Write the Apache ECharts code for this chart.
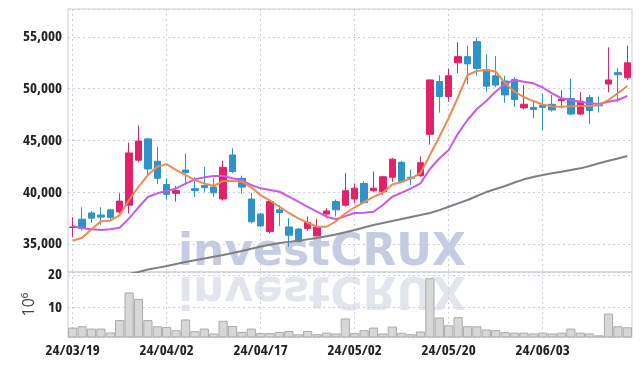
<!DOCTYPE html>
<html>
<head>
<meta charset="utf-8">
<script src="https://cdn.jsdelivr.net/npm/echarts@6/dist/echarts.min.js"></script>
<style>
  html, body { margin: 0; padding: 0; background: #fff; }
  #chart { width: 642px; height: 366px; }
</style>
</head>
<body>
<div id="chart"></div>
<script>
// trading days 24/03/19 ~ 24/06/17
var dates = [
  '24/03/19', '24/03/20', '24/03/21', '24/03/22', '24/03/25', '24/03/26', '24/03/27', '24/03/28', '24/03/29', '24/04/01',
  '24/04/02', '24/04/03', '24/04/04', '24/04/05', '24/04/08', '24/04/09', '24/04/11', '24/04/12', '24/04/15', '24/04/16',
  '24/04/17', '24/04/18', '24/04/19', '24/04/22', '24/04/23', '24/04/24', '24/04/25', '24/04/26', '24/04/29', '24/04/30',
  '24/05/02', '24/05/03', '24/05/07', '24/05/08', '24/05/09', '24/05/10', '24/05/13', '24/05/14', '24/05/16', '24/05/17',
  '24/05/20', '24/05/21', '24/05/22', '24/05/23', '24/05/24', '24/05/27', '24/05/28', '24/05/29', '24/05/30', '24/05/31',
  '24/06/03', '24/06/04', '24/06/05', '24/06/07', '24/06/10', '24/06/11', '24/06/12', '24/06/13', '24/06/14', '24/06/17'
];
var opens = [
  36600, 37400, 38000, 37800, 38300, 38100, 38750, 43100, 45150, 43000,
  40750, 39900, 42150, 40350, 40650, 40500, 39350, 43600, 41350, 39350,
  37900, 36200, 38300, 36650, 36450, 36500, 35800, 37900, 39100, 38750,
  39350, 40850, 40150, 40050, 41450, 42900, 41450, 41600, 45600, 50700,
  49250, 52500, 53100, 54550, 51850, 51250, 50750, 50900, 48150, 48200,
  48400, 48500, 48850, 49050, 47550, 49150, 48500, 50450, 51550, 51050
];
var closes = [
  36650, 36500, 37500, 37600, 37550, 39150, 43800, 44950, 42250, 41350,
  39800, 40150, 41900, 40150, 40450, 39950, 42400, 42000, 40500, 37150,
  36750, 39100, 38050, 35850, 35250, 37100, 36650, 38200, 38300, 40150,
  40400, 39000, 40400, 41500, 43200, 41000, 41350, 42850, 50850, 49250,
  51250, 53100, 52400, 51950, 50250, 50350, 49400, 48950, 48500, 48000,
  48200, 47950, 49000, 47550, 48800, 47900, 48350, 50850, 51350, 52500
];
var lows = [
  35650, 36300, 37050, 36850, 37300, 37950, 37950, 42900, 41650, 40800,
  39300, 39100, 40700, 39550, 40050, 39550, 39200, 41850, 39850, 37000,
  36650, 36050, 36750, 34750, 35150, 36300, 35750, 37500, 37650, 38600,
  38950, 38900, 40050, 39750, 41000, 40950, 40700, 41500, 44600, 47700,
  48750, 51500, 50450, 51300, 49700, 50150, 48650, 48250, 48000, 47150,
  46000, 47800, 48100, 47450, 47450, 46600, 47700, 49650, 48700, 50850
];
var highs = [
  37600, 38550, 38200, 38550, 38400, 39900, 44800, 46450, 45250, 44400,
  41350, 40600, 43750, 41450, 42450, 41350, 43050, 44250, 41600, 39950,
  38000, 39250, 38750, 37500, 36550, 37650, 37450, 38450, 39300, 41850,
  40850, 41050, 42000, 41600, 43300, 43050, 42200, 43450, 50900, 51300,
  51950, 54500, 54150, 54950, 53350, 53150, 51250, 51100, 50350, 48900,
  49550, 49400, 49850, 50950, 49650, 49400, 49250, 54000, 52000, 54150
];
// volume, unit 10^6
var volumes = [
  3.8, 4.2, 3.5, 3.5, 2.3, 6.1, 14.6, 12.6, 6.1, 4.2,
  4.0, 3.0, 6.3, 2.7, 3.5, 2.0, 5.9, 4.3, 2.45, 3.5,
  2.1, 2.1, 2.45, 2.75, 1.75, 2.75, 1.75, 2.25, 2.0, 6.6,
  2.1, 3.0, 3.8, 2.0, 4.1, 2.2, 1.75, 2.6, 19.0, 6.9,
  4.5, 7.0, 4.2, 4.2, 3.2, 3.0, 2.4, 2.25, 2.25, 2.0,
  2.25, 2.0, 2.25, 3.5, 2.25, 2.0, 1.4, 8.1, 4.2, 3.9
];
var ma5 = [
  35320, 35610, 36420, 37190, 37250, 37800, 39250, 40530, 41660, 42470,
  42720, 42150, 41670, 41180, 40860, 40600, 41100, 41120, 41020, 40480,
  39700, 39200, 38600, 38000, 37480, 37060, 36670, 36670, 37200, 37950,
  38550, 39050, 39550, 39950, 40750, 41000, 41350, 41850, 43600, 45340,
  47170, 49200, 51330, 51710, 51810, 51660, 50550, 49710, 49200, 48810,
  48480, 48280, 48260, 48300, 48330, 48330, 48430, 48910, 49560, 50260
];
var ma10 = [
  36740, 36520, 36420, 36350, 36420, 36580, 37480, 38550, 39540, 39900,
  40120, 40380, 40840, 41250, 41440, 41570, 41570, 41350, 41180, 40700,
  40380, 40220, 40050, 39570, 39090, 38600, 38120, 37640, 37390, 37700,
  38000, 38020, 38120, 38770, 39570, 39960, 40380, 40860, 42250, 43260,
  44080, 45690, 46980, 48040, 48810, 49730, 50460, 50840, 50680, 50520,
  50120, 49560, 49080, 48910, 48750, 48590, 48520, 48750, 48910, 49300
];
var ma60 = [
  31100, 31250, 31450, 31600, 31750, 31950, 32120, 32300, 32550, 32700,
  32880, 33070, 33260, 33440, 33600, 33770, 33940, 34130, 34320, 34550,
  34760, 34930, 35100, 35210, 35320, 35450, 35580, 35750, 35920, 36130,
  36350, 36590, 36840, 37030, 37220, 37420, 37610, 37800, 38000, 38280,
  38600, 38930, 39250, 39640, 40020, 40310, 40600, 40940, 41250, 41470,
  41670, 41830, 41980, 42150, 42310, 42540, 42800, 43050, 43260, 43500
];

var upColor = '#E2216A';
var downColor = '#2E93C9';
var gridLineColor = '#cdcde0';
// Open Sans is variable, 'condensed' in the weight slot narrows it
var labelFont = "'Open Sans', sans-serif";
var labelWeight = 'bold condensed';

var kData = [];
dates.map(function (d, i) {
  kData.push([opens[i], closes[i], lows[i], highs[i]]);
});

var myChart = echarts.init(document.getElementById('chart'));

var option = {
  animation: false,
  backgroundColor: '#fff',
  grid: [
    { left: 68, right: 10, top: 9, height: 263, show: true, borderColor: '#cfcfcf', borderWidth: 1 },
    { left: 68, right: 10, top: 272, height: 65, show: true, borderColor: '#cfcfcf', borderWidth: 1 }
  ],
  graphic: [
    {
      type: 'text',
      z: -10,
      x: 178,
      y: 254,
      silent: true,
      style: { text: 'investCRUX', font: "bold 44px 'DejaVu Sans'", fill: '#c4cbe3', verticalAlign: 'middle' }
    },
    {
      // mirrored copy under the price panel
      type: 'text',
      z: -10,
      x: 178,
      y: 258,
      originY: 15,
      scaleY: -1,
      silent: true,
      style: { text: 'investCRUX', font: "bold 44px 'DejaVu Sans'", fill: '#e2e4ee', verticalAlign: 'middle' }
    }
  ],
  xAxis: [
    {
      type: 'category',
      gridIndex: 0,
      data: dates,
      boundaryGap: true,
      axisLine: { show: false },
      axisTick: { show: false },
      axisLabel: { show: false },
      splitLine: { show: true, interval: 9, alignWithLabel: true, lineStyle: { color: gridLineColor, type: [2, 3] } }
    },
    {
      type: 'category',
      gridIndex: 1,
      data: dates,
      boundaryGap: true,
      axisLine: { show: false },
      axisTick: { show: false },
      axisLabel: {
        interval: 9,
        margin: 6,
        color: '#222',
        fontSize: 15,
        fontWeight: labelWeight,
        fontFamily: labelFont
      },
      splitLine: { show: true, interval: 9, alignWithLabel: true, lineStyle: { color: gridLineColor, type: [2, 3] } }
    }
  ],
  yAxis: [
    {
      type: 'value',
      gridIndex: 0,
      min: 32300,
      max: 57700,
      splitNumber: 5,
      axisLine: { show: false },
      axisTick: { show: false },
      axisLabel: {
        showMinLabel: false,
        showMaxLabel: false,
        margin: 6,
        color: '#222',
        fontSize: 15,
        fontWeight: labelWeight,
        fontFamily: labelFont,
        formatter: function (v) {
          return v % 5000 === 0 ? v.toLocaleString('en-US') : '';
        }
      },
      splitLine: { lineStyle: { color: gridLineColor, type: [2, 3] } }
    },
    {
      type: 'value',
      gridIndex: 1,
      min: 0.9,
      max: 20.9,
      splitNumber: 2,
      name: '10⁶',
      nameLocation: 'middle',
      nameRotate: 90,
      nameGap: 21,
      nameTextStyle: { color: '#444', fontSize: 16, fontFamily: labelFont },
      axisLine: { show: false },
      axisTick: { show: false },
      axisLabel: {
        showMinLabel: false,
        showMaxLabel: false,
        margin: 6,
        color: '#222',
        fontSize: 15,
        fontWeight: labelWeight,
        fontFamily: labelFont,
        formatter: function (v) {
          return (v === 10 || v === 20) ? String(v) : '';
        }
      },
      splitLine: { lineStyle: { color: gridLineColor, type: [2, 3] } }
    }
  ],
  series: [
    {
      name: 'price',
      type: 'candlestick',
      xAxisIndex: 0,
      yAxisIndex: 0,
      barWidth: 7,
      itemStyle: {
        color: upColor,
        color0: downColor,
        borderColor: upColor,
        borderColor0: downColor,
        borderWidth: 1
      },
      data: kData
    },
    {
      name: 'MA60',
      type: 'line',
      xAxisIndex: 0,
      yAxisIndex: 0,
      symbol: 'none',
      lineStyle: { width: 2, color: '#7f7f7f' },
      data: ma60
    },
    {
      name: 'MA10',
      type: 'line',
      xAxisIndex: 0,
      yAxisIndex: 0,
      symbol: 'none',
      lineStyle: { width: 2, color: '#c95ae9' },
      data: ma10
    },
    {
      name: 'MA5',
      type: 'line',
      xAxisIndex: 0,
      yAxisIndex: 0,
      symbol: 'none',
      lineStyle: { width: 2, color: '#ee8a50' },
      data: ma5
    },
    {
      name: 'volume',
      type: 'bar',
      xAxisIndex: 1,
      yAxisIndex: 1,
      barCategoryGap: '2%',
      itemStyle: { color: '#d7d7d7', borderColor: '#ababab', borderWidth: 1 },
      data: volumes
    }
  ]
};

myChart.setOption(option);
window.onresize = myChart.resize;
</script>
</body>
</html>
